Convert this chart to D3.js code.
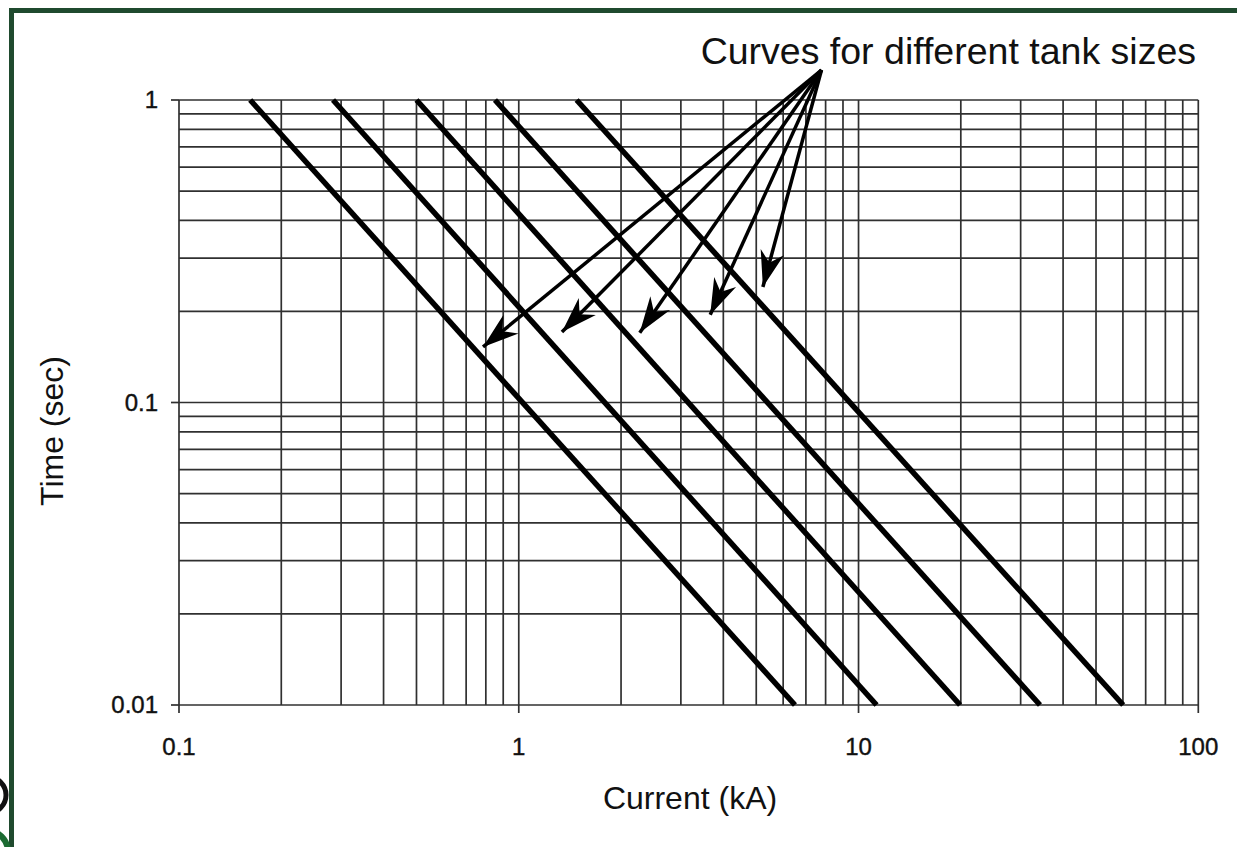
<!DOCTYPE html>
<html>
<head>
    <style>
        body {
            margin: 0;
            background-color: #ffffff;
            font-family: "Liberation Sans", Arial, sans-serif;
        }

        .grid line {
            stroke: #303030;
            stroke-width: 1.7px;
        }

        .curve {
            fill: none;
            stroke: #000;
            stroke-width: 5.5px;
        }

        .pointer {
            stroke: #000;
            stroke-width: 3.5px;
        }

        .tick-label {
            font-size: 24px;
            fill: #111;
            stroke: #111;
            stroke-width: 0.4px;
        }

        .axis-title {
            font-size: 32px;
            fill: #111;
        }
    </style>
</head>
<body>
    <div id="chart"></div>

    <script src="https://d3js.org/d3.v7.min.js"></script>
    <script>
        // current (kA) where each tank curve crosses t = 1 s and t = 0.01 s
        var currentAtTop = [0.162, 0.284, 0.50, 0.851, 1.48];
        var currentAtBottom = [6.5, 11.3, 19.9, 34.2, 60.1];
        var curveTimes = [1, 0.01];

        var xTickLabels = ["0.1", "1", "10", "100"];
        var yTickLabels = ["0.01", "0.1", "1"];

        // annotation arrows: common start and the point each one aims at
        var arrowFrom = {current: 7.78, time: 1.256};
        var arrowCurrent = [0.785, 1.34, 2.27, 3.66, 5.23];
        var arrowTime = [0.1526, 0.171, 0.170, 0.195, 0.241];

        var W = 1237, H = 847;
        var margin = {top: 100, left: 179, right: 38.7, bottom: 142};

        var svg = d3.select("#chart").append("svg")
            .attr("width", W)
            .attr("height", H);

        var x = d3.scaleLog()
            .domain([0.1, 100])
            .range([margin.left, W - margin.right]);

        var y = d3.scaleLog()
            .domain([0.01, 1])
            .range([H - margin.bottom, margin.top]);

        // green frame of the original figure (top and left only)
        svg.append("rect").attr("x", 9).attr("y", 8).attr("width", W - 9).attr("height", 5).attr("fill", "#1f4a2e");
        svg.append("rect").attr("x", 9).attr("y", 8).attr("width", 5).attr("height", H - 8).attr("fill", "#1f4a2e");

        // bits of a logo cut off at the bottom left
        svg.append("circle").attr("cx", -12).attr("cy", 795).attr("r", 18)
            .attr("fill", "none").attr("stroke", "#111").attr("stroke-width", 5);
        svg.append("circle").attr("cx", -14).attr("cy", 852).attr("r", 22)
            .attr("fill", "none").attr("stroke", "#1c6b32").attr("stroke-width", 6);

        // grid
        var grid = svg.append("g").attr("class", "grid");

        grid.selectAll("line.v")
            .data(x.ticks())
            .enter().append("line")
            .attr("class", "v")
            .attr("x1", function(d) { return x(d); })
            .attr("x2", function(d) { return x(d); })
            .attr("y1", y(1))
            .attr("y2", y(0.01));

        grid.selectAll("line.h")
            .data(y.ticks())
            .enter().append("line")
            .attr("class", "h")
            .attr("x1", x(0.1))
            .attr("x2", x(100))
            .attr("y1", function(d) { return y(d); })
            .attr("y2", function(d) { return y(d); });

        // small outside ticks at the labelled values
        grid.selectAll("line.tx")
            .data(xTickLabels)
            .enter().append("line")
            .attr("class", "tx")
            .attr("x1", function(d) { return x(+d); })
            .attr("x2", function(d) { return x(+d); })
            .attr("y1", y(0.01))
            .attr("y2", y(0.01) + 8);

        grid.selectAll("line.ty")
            .data(yTickLabels)
            .enter().append("line")
            .attr("class", "ty")
            .attr("x1", x(0.1) - 8)
            .attr("x2", x(0.1))
            .attr("y1", function(d) { return y(+d); })
            .attr("y2", function(d) { return y(+d); });

        // tick labels
        svg.selectAll("text.xl")
            .data(xTickLabels)
            .enter().append("text")
            .attr("class", "tick-label")
            .attr("x", function(d) { return x(+d); })
            .attr("y", y(0.01) + 50)
            .attr("text-anchor", "middle")
            .text(function(d) { return d; });

        svg.selectAll("text.yl")
            .data(yTickLabels)
            .enter().append("text")
            .attr("class", "tick-label")
            .attr("x", x(0.1) - 21)
            .attr("y", function(d) { return y(+d); })
            .attr("dy", "0.35em")
            .attr("text-anchor", "end")
            .text(function(d) { return d; });

        // axis titles
        svg.append("text")
            .attr("class", "axis-title")
            .attr("x", 690)
            .attr("y", 809)
            .attr("text-anchor", "middle")
            .text("Current (kA)");

        svg.append("text")
            .attr("class", "axis-title")
            .attr("transform", "translate(63,431) rotate(-90)")
            .attr("text-anchor", "middle")
            .text("Time (sec)");

        // tank curves
        var line = d3.line()
            .x(function(d) { return x(d[0]); })
            .y(function(d) { return y(d[1]); });

        svg.selectAll("path.curve")
            .data(currentAtTop.map(function(c, i) {
                return [[c, curveTimes[0]], [currentAtBottom[i], curveTimes[1]]];
            }))
            .enter().append("path")
            .attr("class", "curve")
            .attr("d", line);

        // annotation
        svg.append("defs").append("marker")
            .attr("id", "head")
            .attr("markerUnits", "userSpaceOnUse")
            .attr("viewBox", "-38 -14 40 28")
            .attr("refX", 0).attr("refY", 0)
            .attr("markerWidth", 40).attr("markerHeight", 28)
            .attr("orient", "auto")
            .append("path")
            .attr("d", "M0,0 L-36,-12 L-25,0 L-36,12 Z")
            .attr("fill", "#000");

        svg.selectAll("line.pointer")
            .data(arrowCurrent)
            .enter().append("line")
            .attr("class", "pointer")
            .attr("x1", x(arrowFrom.current))
            .attr("y1", y(arrowFrom.time))
            .attr("x2", function(d) { return x(d); })
            .attr("y2", function(d, i) { return y(arrowTime[i]); })
            .attr("marker-end", "url(#head)");

        svg.append("text")
            .attr("x", 1196)
            .attr("y", 64)
            .attr("text-anchor", "end")
            .style("font-size", "37.5px")
            .style("fill", "#111")
            .text("Curves for different tank sizes");
    </script>
</body>
</html>
